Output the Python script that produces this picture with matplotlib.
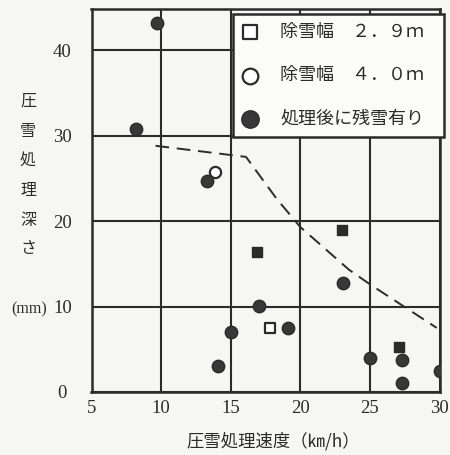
import matplotlib
matplotlib.use("Agg")
import matplotlib.pyplot as plt

# ---- data ----
# 2.9 m width, no residual snow (open square)
sq_open_x = [17.8]
sq_open_y = [7.5]
# 2.9 m width, residual snow (filled square)
sq_fill_x = [16.9, 23.0, 27.1]
sq_fill_y = [16.4, 19.0, 5.3]
# 4.0 m width, no residual snow (open circle)
ci_open_x = [13.9]
ci_open_y = [25.7]
# residual snow after treatment (filled circle)
ci_fill_x = [9.7, 8.2, 13.3, 23.1, 17.0, 15.0, 19.1, 14.1, 25.0, 27.3, 27.3, 30.0]
ci_fill_y = [43.2, 30.8, 24.7, 12.7, 10.1, 7.0, 7.5, 3.0, 4.0, 3.7, 1.1, 2.5]
# dashed boundary line
bound_x = [9.6, 16.1, 18.3, 20.0, 23.5, 25.0, 29.8]
bound_y = [28.8, 27.5, 22.6, 19.3, 14.3, 12.6, 7.5]

x_ticks = [5, 10, 15, 20, 25, 30]
y_ticks = [0, 10, 20, 30, 40]
legend_labels = ["除雪幅　２．９ｍ", "除雪幅　４．０ｍ", "処理後に残雪有り"]
ylabel_chars = ["圧", "雪", "処", "理", "深", "さ"]
ylabel_unit = "(mm)"
xlabel = "圧雪処理速度（㎞/h）"

cjk = ["Noto Sans CJK JP", "DejaVu Sans"]
ink = "#2b2b2b"
bg = "#f6f6f4"

fig = plt.figure(figsize=(4.5, 4.55), dpi=100, facecolor=bg)
ax = fig.add_axes([91.5 / 450, 1 - 392 / 455, 348 / 450, 383 / 455])
ax.set_facecolor(bg)
ax.set_xlim(5, 30)
ax.set_ylim(0, 44.8)

ax.set_xticks(x_ticks)
ax.set_yticks(y_ticks)
ax.tick_params(length=0, labelsize=13.5, colors=ink)
ax.tick_params(axis="x", pad=6)
ax.tick_params(axis="y", pad=21)
for lab in ax.get_xticklabels() + ax.get_yticklabels():
    lab.set_fontfamily("Liberation Serif")
for lab in ax.get_yticklabels():
    lab.set_horizontalalignment("center")

ax.grid(True, color=ink, lw=1.5, zorder=1)
ax.set_axisbelow(True)
for s in ax.spines.values():
    s.set_color(ink)
    s.set_linewidth(1.8)

ax.plot(bound_x, bound_y, color=ink, lw=1.4, dashes=(7, 4), zorder=3)

h_sq_open = ax.scatter(sq_open_x, sq_open_y, marker="s", s=50, facecolor="white",
                       edgecolor=ink, linewidths=1.6, zorder=4)
ax.scatter(sq_fill_x, sq_fill_y, marker="s", s=55, facecolor=ink,
           edgecolor=ink, linewidths=1.0, zorder=4)
h_ci_open = ax.scatter(ci_open_x, ci_open_y, marker="o", s=65, facecolor="white",
                       edgecolor=ink, linewidths=1.6, zorder=4)
h_ci_fill = ax.scatter(ci_fill_x, ci_fill_y, marker="o", s=80, facecolor="#383838",
                       edgecolor=ink, linewidths=1.0, zorder=4)

leg = ax.legend([h_sq_open, h_ci_open, h_ci_fill], legend_labels,
                loc="upper left", bbox_to_anchor=(0.408, 0.664, 0.606, 0.323),
                mode="expand", borderaxespad=0, frameon=True, fancybox=False,
                prop={"family": cjk, "size": 13}, labelcolor=ink,
                handlelength=0.8, handletextpad=1.3, labelspacing=1.4,
                borderpad=0.5, markerscale=1.4, scatterpoints=1)
leg.set_zorder(5)
fr = leg.get_frame()
fr.set_edgecolor(ink)
fr.set_linewidth(1.8)
fr.set_facecolor("#fbfbfa")
fr.set_alpha(1)

# vertical y-axis label
ys = [101, 131.5, 161, 190, 220, 248.5]
for ch, yp in zip(ylabel_chars, ys):
    fig.text(28 / 450, 1 - yp / 455, ch, family=cjk, fontsize=11.5, color=ink,
             ha="center", va="center")
fig.text(29 / 450, 1 - 309 / 455, ylabel_unit, family="Liberation Serif",
         fontsize=11.5, color=ink, ha="center", va="center")
fig.text(273 / 450, 1 - 441 / 455, xlabel, family=cjk, fontsize=12.5, color=ink,
         ha="center", va="center")

fig.savefig("out.png", dpi=100, facecolor=bg)
